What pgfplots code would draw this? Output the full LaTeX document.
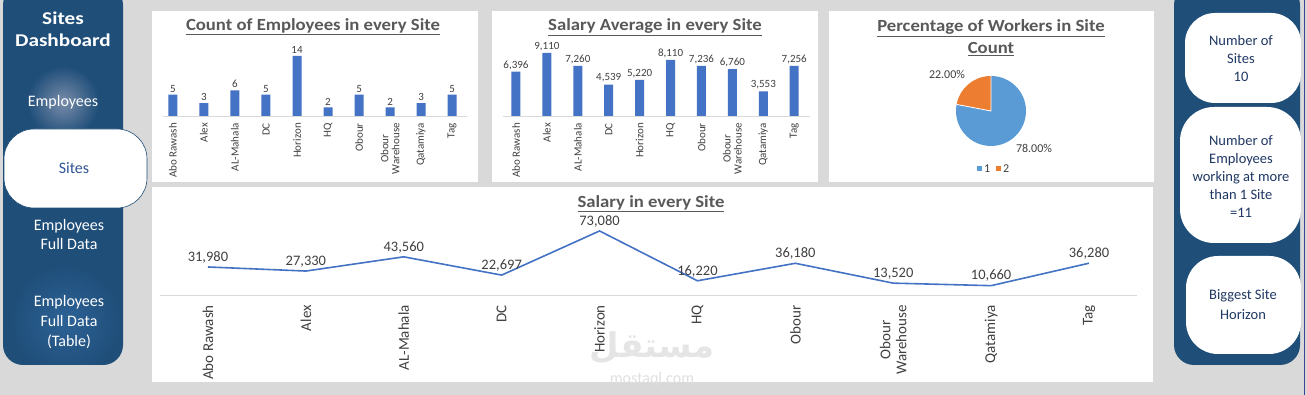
\documentclass[border=0pt]{standalone}
\usepackage{fontspec}
\setmainfont{Carlito}
\newfontfamily\tfont{Carlito}[FakeStretch=1.1]
\newfontfamily\dfont{Carlito}[FakeStretch=1.18]
\newfontfamily\arabicfont[Script=Arabic]{DejaVu Sans}
\usepackage{pgfplots}
\pgfplotsset{compat=1.18}
\TeXXeTstate=1
\definecolor{bg}{HTML}{D9D9D9}
\definecolor{panel}{HTML}{1F4E79}
\definecolor{barblue}{HTML}{4472C4}
\definecolor{pieblue}{HTML}{5B9BD5}
\definecolor{pieorange}{HTML}{ED7D31}
\definecolor{ttl}{HTML}{595959}
\definecolor{lbl}{HTML}{404040}
\definecolor{navy}{HTML}{1F3864}
\definecolor{sitesblue}{HTML}{2F5597}
\definecolor{glow1}{RGB}{120,140,170}
\definecolor{glow2}{RGB}{45,98,150}
\newcommand\fs[2]{\fontsize{#1}{#2}\selectfont}

\pgfplotsset{
 dashcommon/.style={
  scale only axis,
  axis x line=bottom, axis y line=none,
  x axis line style={-, draw=black!15},
  xtick=data, major tick length=0pt,
  xticklabels={Abo Rawash,Alex,AL-Mahala,DC,Horizon,HQ,Obour,{Obour\\Warehouse},Qatamiya,Tag},
  xticklabel style={rotate=90, anchor=east, text=lbl, align=center, inner sep=1pt},
  nodes near coords={\pgfmathprintnumber[assume math mode=true]{\pgfplotspointmeta}},
  nodes near coords style={text=lbl, anchor=south, inner sep=2pt},
  /pgf/number format/fixed, /pgf/number format/precision=0, /pgf/number format/1000 sep={,},
  clip=false,
 },
 dashbar/.style={dashcommon, ybar, bar width=9pt,
  xticklabel shift=6pt,
  xticklabel style={font=\fs{11}{11}},
  nodes near coords style={font=\fs{11}{11}}},
}

\begin{document}
\begin{tikzpicture}[x=1pt,y=1pt]
\useasboundingbox (0,0) rectangle (1307,395);
\fill[bg] (0,0) rectangle (1307,395);

% ---------- left panel ----------
\fill[panel, rounded corners=20pt] (3,30) rectangle (123,410);
\begin{scope}
\clip[rounded corners=20pt] (3,30) rectangle (123,410);
\shade[inner color=glow1, outer color=panel] (63,293) circle (36);
\shade[inner color=glow2, outer color=panel] (66,75) circle (55);
\end{scope}
\node[white, font=\dfont\bfseries\fs{18}{22}, align=center] at (63,366) {Sites\\Dashboard};
\node[white, font=\fs{16}{19}] at (63,293) {Employees};
\fill[white, draw=panel, line width=0.6pt, rounded corners=30pt] (4,187) rectangle (147,266);
\node[sitesblue, font=\fs{16}{19}] at (74,227) {Sites};
\node[white, font=\fs{16}{19.5}, align=center] at (69,160.5) {Employees\\Full Data};
\node[white, font=\fs{16}{20}, align=center] at (69,73) {Employees\\Full Data\\(Table)};

% ---------- right panel ----------
\fill[panel, rounded corners=20pt] (1174,30) rectangle (1300,410);
\draw[black!35!blue!50!gray, line width=0.6pt] (1304.5,0) -- (1304.5,395);
\fill[white, rounded corners=30pt] (1185,292) rectangle (1301,382);
\fill[white, rounded corners=34pt] (1180,152) rectangle (1301,288);
\fill[white, rounded corners=32pt] (1186,41) rectangle (1301,139);
\node[navy, font=\fs{14.5}{18}, align=center] at (1241,336) {Number of\\Sites\\10};
\node[navy, font=\fs{14.5}{18}, align=center] at (1241,219) {Number of\\Employees\\working at more\\than 1 Site\\=11};
\node[navy, font=\fs{14.5}{20}, align=center] at (1243,90) {Biggest Site\\Horizon};

% ---------- chart boxes ----------
\fill[white] (152,213) rectangle (478,384);
\fill[white] (492,213) rectangle (818,384);
\fill[white] (829,213) rectangle (1154,384);
\fill[white] (152,13) rectangle (1153,208);

% watermark
\node[black!10, font=\arabicfont\bfseries\fs{34}{34}] at (652,47) {\beginR مستقل\endR};
\node[black!12, font=\fs{16}{16}] at (652,16) {mostaql.com};

% ---------- chart 1 ----------
\node[ttl, font=\tfont\bfseries\fs{17}{18}] at (313,368) {\underline{Count of Employees in every Site}};
\begin{axis}[dashbar, at={(163pt,279pt)}, anchor=south west,
  width=304pt, height=68.6pt, xmin=-0.32, xmax=9.48, ymin=0, ymax=16]
\addplot[fill=barblue, draw=none] coordinates {(0,5)(1,3)(2,6)(3,5)(4,14)(5,2)(6,5)(7,2)(8,3)(9,5)};
\end{axis}

% ---------- chart 2 ----------
\node[ttl, font=\tfont\bfseries\fs{17}{18}] at (655,368) {\underline{Salary Average in every Site}};
\begin{axis}[dashbar, at={(503pt,279pt)}, anchor=south west,
  width=307pt, height=76.1pt, xmin=-0.42, xmax=9.51, ymin=0, ymax=11000]
\addplot[fill=barblue, draw=none] coordinates {(0,6396)(1,9110)(2,7260)(3,4539)(4,5220)(5,8110)(6,7236)(7,6760)(8,3553)(9,7256)};
\end{axis}

% ---------- chart 3 (pie) ----------
\node[ttl, font=\tfont\bfseries\fs{17}{22}, align=center] at (991,357) {\underline{Percentage of Workers in Site}\\\underline{Count}};
\pgfmathsetmacro\pa{78}
\pgfmathsetmacro\pb{22}
\pgfmathsetmacro\ang{90-3.6*\pa}
\fill[pieblue] (991,284) -- (991,319) arc[start angle=90, end angle=\ang, radius=35] -- cycle;
\fill[pieorange] (991,284) -- ([shift={(\ang:35)}]991,284) arc[start angle=\ang, end angle=-270, radius=35] -- cycle;
\draw[white, line width=0.8pt] (991,319) -- (991,284) -- ([shift={(\ang:35)}]991,284);
\node[lbl, font=\fs{12}{12}] at (947,321) {22.00\%};
\node[lbl, font=\fs{12}{12}] at (1034,247) {78.00\%};
\fill[pieblue] (976.5,223.5) rectangle (981.5,228.5);
\node[lbl, font=\fs{12}{12}, anchor=west, inner sep=0pt] at (984,226) {1};
\fill[pieorange] (995.5,223.5) rectangle (1000.5,228.5);
\node[lbl, font=\fs{12}{12}, anchor=west, inner sep=0pt] at (1003,226) {2};

% ---------- chart 4 ----------
\node[ttl, font=\tfont\bfseries\fs{17}{18}] at (651,191) {\underline{Salary in every Site}};
\begin{axis}[dashcommon, at={(160pt,100pt)}, anchor=south west,
  width=977pt, height=70.1pt, xmin=-0.49, xmax=9.49, ymin=0, ymax=80000,
  xticklabel shift=9pt,
  xticklabel style={font=\fs{15}{16}},
  nodes near coords style={font=\fs{14.5}{15}, yshift=1pt}]
\addplot[barblue, line width=1.6pt, mark=none] coordinates {(0,31980)(1,27330)(2,43560)(3,22697)(4,73080)(5,16220)(6,36180)(7,13520)(8,10660)(9,36280)};
\end{axis}
\end{tikzpicture}
\end{document}
